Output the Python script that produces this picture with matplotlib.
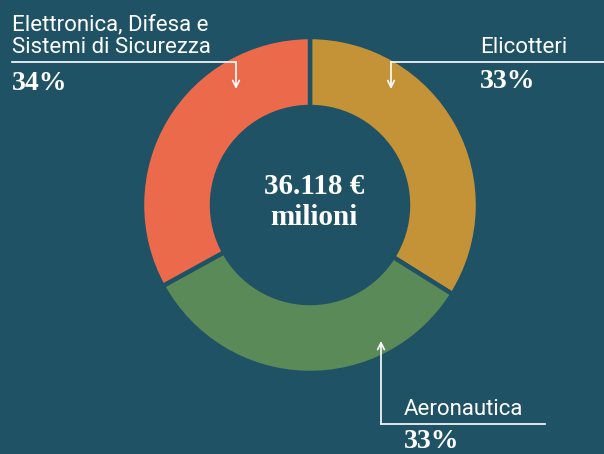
import matplotlib.pyplot as plt

# data
labels = ["Elicotteri", "Aeronautica", "Elettronica, Difesa e\nSistemi di Sicurezza"]
shares = [33.9, 33.1, 33.0]          # slice sizes as drawn
pct_labels = ["33%", "33%", "34%"]   # percentages as printed
colors = ["#c59337", "#5a8a57", "#ec6a4c"]
total_text = "36.118 €\nmilioni"

bg = "#1e5264"
W, H = 604, 454

fig = plt.figure(figsize=(W / 100, H / 100), dpi=100, facecolor=bg)
ax = fig.add_axes([0, 0, 1, 1])
ax.set_facecolor(bg)

def py(y):
    # pixel row -> data y
    return H - y

ax.pie(shares, colors=colors, startangle=90, counterclock=False,
       center=(310, py(205)), radius=168, frame=True,
       wedgeprops=dict(width=70, edgecolor=bg, linewidth=3.2))
ax.set_xlim(0, W)
ax.set_ylim(0, H)
ax.set_aspect("equal")
ax.axis("off")

ax.text(314, py(202), total_text, ha="center", va="center", color="white",
        fontsize=21, fontweight="bold", family="Liberation Serif", linespacing=1.15)

lab_font = dict(color="white", fontsize=16, family="Roboto")
pct_font = dict(color="white", fontsize=20, fontweight="bold", family="Liberation Serif")
lw = 1.2
arrow = dict(arrowstyle="->", color="white", lw=lw, shrinkA=0, shrinkB=0,
             mutation_scale=12)

# Elettronica
ax.plot([12, 236], [py(62), py(62)], color="white", lw=lw)
ax.annotate("", xy=(236, py(89)), xytext=(236, py(62)), arrowprops=arrow)
ax.text(12, py(53), labels[2], va="baseline", ha="left", linespacing=1.12, **lab_font)
ax.text(12, py(90), pct_labels[2], va="baseline", ha="left", **pct_font)

# Elicotteri
ax.plot([391, 604], [py(62), py(62)], color="white", lw=lw)
ax.annotate("", xy=(391, py(89)), xytext=(391, py(62)), arrowprops=arrow)
ax.text(480, py(53), labels[0], va="baseline", ha="left", **lab_font)
ax.text(480, py(88), pct_labels[0], va="baseline", ha="left", **pct_font)

# Aeronautica
ax.plot([381, 545], [py(424), py(424)], color="white", lw=lw)
ax.annotate("", xy=(381, py(341)), xytext=(381, py(424)), arrowprops=arrow)
ax.text(404, py(415), labels[1], va="baseline", ha="left", **lab_font)
ax.text(404, py(448), pct_labels[1], va="baseline", ha="left", **pct_font)

fig.savefig("out.png", dpi=100, facecolor=bg)
